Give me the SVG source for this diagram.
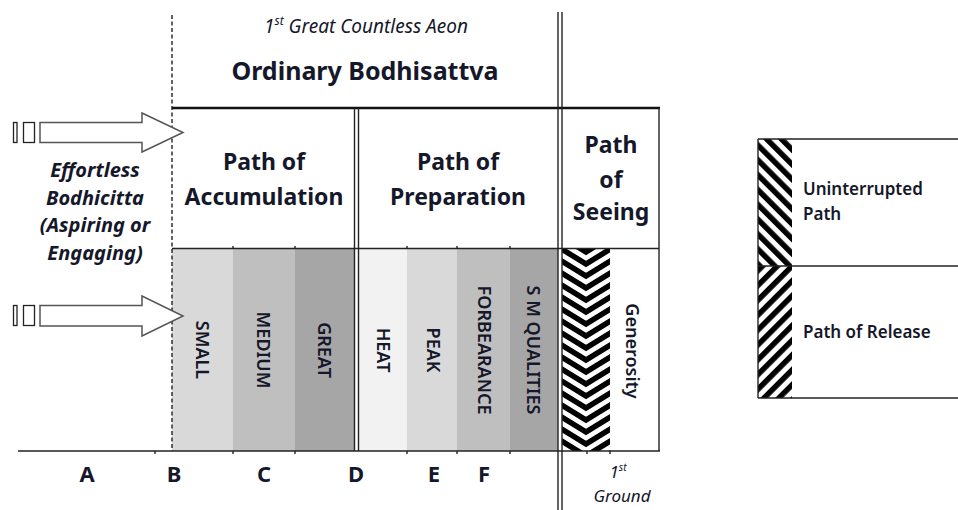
<svg xmlns="http://www.w3.org/2000/svg" width="958" height="510" viewBox="0 0 958 510">
  <style>
    text { font-family: "Noto Sans", "Open Sans", "Liberation Sans", sans-serif; fill: #15172a; }
    .bold { font-weight: bold; }
    .ital { font-style: italic; }
    .head { font-size: 23px; font-weight: bold; text-anchor: middle; }
    .side { font-size: 20px; font-weight: bold; font-style: italic; text-anchor: middle; }
    .stage { font-size: 18px; font-weight: 600; text-anchor: middle; }
    .axis { font-size: 22px; font-weight: bold; text-anchor: middle; }
    .legend { font-size: 17px; font-weight: 600; }
    .thin { stroke: #222; stroke-width: 1.4; fill: none; }
    .thick { stroke: #111; stroke-width: 2.6; fill: none; }
    .arrow { fill: #fff; stroke: #555; stroke-width: 1.5; }
    .tick { stroke: #222; stroke-width: 1.4; }
  </style>
  <defs>
    <!-- chevron fill: down-pointing V bands -->
    <pattern id="chevron" patternUnits="userSpaceOnUse" x="562" y="249" width="48" height="12">
      <rect width="48" height="12" fill="#fff"/>
      <g fill="none" stroke="#000" stroke-width="5.5">
        <polyline points="-2,-13 24,3 50,-13"/>
        <polyline points="-2,-1 24,15 50,-1"/>
        <polyline points="-2,11 24,27 50,11"/>
      </g>
    </pattern>
    <!-- diagonal bands running top-left to bottom-right -->
    <pattern id="hatchDown" patternUnits="userSpaceOnUse" width="10.5" height="10.5" patternTransform="rotate(-45)">
      <rect width="10.5" height="10.5" fill="#fff"/>
      <rect width="5.5" height="10.5" fill="#000"/>
    </pattern>
    <!-- diagonal bands running bottom-left to top-right -->
    <pattern id="hatchUp" patternUnits="userSpaceOnUse" width="10.5" height="10.5" patternTransform="rotate(45)">
      <rect width="10.5" height="10.5" fill="#fff"/>
      <rect width="5.5" height="10.5" fill="#000"/>
    </pattern>
  </defs>

  <rect width="958" height="510" fill="#fff"/>

  <!-- header -->
  <g id="header">
    <text x="366" y="33" font-size="19" class="ital" text-anchor="middle">1<tspan font-size="12" dy="-8">st</tspan><tspan dy="8"> Great Countless Aeon</tspan></text>
    <text x="365" y="80" font-size="25" class="bold" text-anchor="middle">Ordinary Bodhisattva</text>
  </g>

  <!-- stage columns -->
  <g id="accumulation-stages">
    <rect x="172" y="249" width="61" height="202" fill="#d9d9d9"/>
    <rect x="233" y="249" width="62" height="202" fill="#bfbfbf"/>
    <rect x="295" y="249" width="60" height="202" fill="#a6a6a6"/>
    <text class="stage" transform="translate(196,350) rotate(90)">SMALL</text>
    <text class="stage" transform="translate(257,350) rotate(90)">MEDIUM</text>
    <text class="stage" transform="translate(318,350) rotate(90)">GREAT</text>
  </g>
  <g id="preparation-stages">
    <rect x="358" y="249" width="49" height="202" fill="#f2f2f2"/>
    <rect x="407" y="249" width="50" height="202" fill="#d9d9d9"/>
    <rect x="457" y="249" width="53" height="202" fill="#bfbfbf"/>
    <rect x="510" y="249" width="48" height="202" fill="#a6a6a6"/>
    <text class="stage" transform="translate(377,350) rotate(90)">HEAT</text>
    <text class="stage" transform="translate(427,350) rotate(90)">PEAK</text>
    <text class="stage" transform="translate(478,350) rotate(90)">FORBEARANCE</text>
    <text class="stage" transform="translate(527,350) rotate(90)">S M QUALITIES</text>
  </g>
  <g id="seeing-stages">
    <rect x="562" y="249" width="48" height="202" fill="url(#chevron)"/>
    <rect x="610" y="249" width="49" height="202" fill="#fff"/>
    <text class="stage" transform="translate(626,351) rotate(90)">Generosity</text>
  </g>

  <!-- path titles -->
  <g id="path-accumulation">
    <text class="head" x="264" y="170">Path of</text>
    <text class="head" x="264" y="205">Accumulation</text>
  </g>
  <g id="path-preparation">
    <text class="head" x="458" y="170">Path of</text>
    <text class="head" x="458" y="205">Preparation</text>
  </g>
  <g id="path-seeing">
    <text class="head" x="611" y="153">Path</text>
    <text class="head" x="611" y="188">of</text>
    <text class="head" x="611" y="220">Seeing</text>
  </g>

  <!-- entry label -->
  <g id="bodhicitta">
    <text class="side" x="95" y="177">Effortless</text>
    <text class="side" x="95" y="205">Bodhicitta</text>
    <text class="side" x="95" y="232">(Aspiring or</text>
    <text class="side" x="95" y="260">Engaging)</text>
  </g>

  <!-- grid lines -->
  <g id="connectors">
    <line x1="172" y1="15" x2="172" y2="451" stroke="#222" stroke-width="1.4" stroke-dasharray="4,2.5"/>
    <line class="thick" x1="172" y1="108" x2="660" y2="108"/>
    <line class="thin" x1="172" y1="248.5" x2="659" y2="248.5"/>
    <line class="thin" x1="354.5" y1="108" x2="354.5" y2="451"/>
    <line class="thin" x1="358.5" y1="108" x2="358.5" y2="451"/>
    <line class="thin" x1="558" y1="12" x2="558" y2="510"/>
    <line class="thin" x1="562" y1="12" x2="562" y2="510"/>
    <line class="thin" x1="659" y1="108" x2="659" y2="451"/>
    <line class="thin" x1="18" y1="451" x2="660" y2="451"/>
    <g class="tick">
      <line x1="155" y1="451" x2="155" y2="454"/>
      <line x1="233" y1="451" x2="233" y2="454"/>
      <line x1="295" y1="451" x2="295" y2="454"/>
      <line x1="407" y1="451" x2="407" y2="454"/>
      <line x1="457" y1="451" x2="457" y2="454"/>
      <line x1="510" y1="451" x2="510" y2="454"/>
      <line x1="587" y1="451" x2="587" y2="454"/>
      <line x1="610" y1="451" x2="610" y2="454"/>
      <line x1="233" y1="246" x2="233" y2="249"/>
      <line x1="295" y1="246" x2="295" y2="249"/>
      <line x1="407" y1="246" x2="407" y2="249"/>
      <line x1="457" y1="246" x2="457" y2="249"/>
      <line x1="510" y1="246" x2="510" y2="249"/>
    </g>
  </g>

  <!-- entry arrows -->
  <g id="arrow-upper">
    <rect x="13.5" y="122.5" width="3.5" height="20" fill="#fff" stroke="#222" stroke-width="1.3"/>
    <rect x="23.5" y="122.5" width="11" height="20" fill="#fff" stroke="#222" stroke-width="1.3"/>
    <polygon class="arrow" points="40,122.5 142,122.5 142,113 183,132.5 142,152 142,142.5 40,142.5"/>
  </g>
  <g id="arrow-lower">
    <rect x="13.5" y="305.5" width="3.5" height="20" fill="#fff" stroke="#222" stroke-width="1.3"/>
    <rect x="23.5" y="305.5" width="11" height="20" fill="#fff" stroke="#222" stroke-width="1.3"/>
    <polygon class="arrow" points="40,305.5 142,305.5 142,296 183,316 142,336 142,326 40,326"/>
  </g>

  <!-- axis labels -->
  <g id="axis-labels">
    <text class="axis" x="87" y="482">A</text>
    <text class="axis" x="174" y="482">B</text>
    <text class="axis" x="264" y="482">C</text>
    <text class="axis" x="356" y="482">D</text>
    <text class="axis" x="434" y="482">E</text>
    <text class="axis" x="484" y="482">F</text>
    <text x="618" y="478" font-size="17" class="ital" text-anchor="middle">1<tspan font-size="10" dy="-7">st</tspan></text>
    <text x="622" y="502" font-size="17" class="ital" text-anchor="middle">Ground</text>
  </g>

  <!-- legend -->
  <g id="legend">
    <rect x="758" y="139" width="34" height="127" fill="url(#hatchDown)"/>
    <rect x="758" y="266" width="34" height="132" fill="url(#hatchUp)"/>
    <line class="thin" x1="758" y1="139" x2="958" y2="139"/>
    <line class="thin" x1="758" y1="266" x2="958" y2="266"/>
    <line class="thin" x1="758" y1="398" x2="958" y2="398"/>
    <line class="thin" x1="758" y1="139" x2="758" y2="398"/>
    <text class="legend" x="803" y="195">Uninterrupted</text>
    <text class="legend" x="803" y="220">Path</text>
    <text class="legend" x="803" y="338">Path of Release</text>
  </g>
</svg>
